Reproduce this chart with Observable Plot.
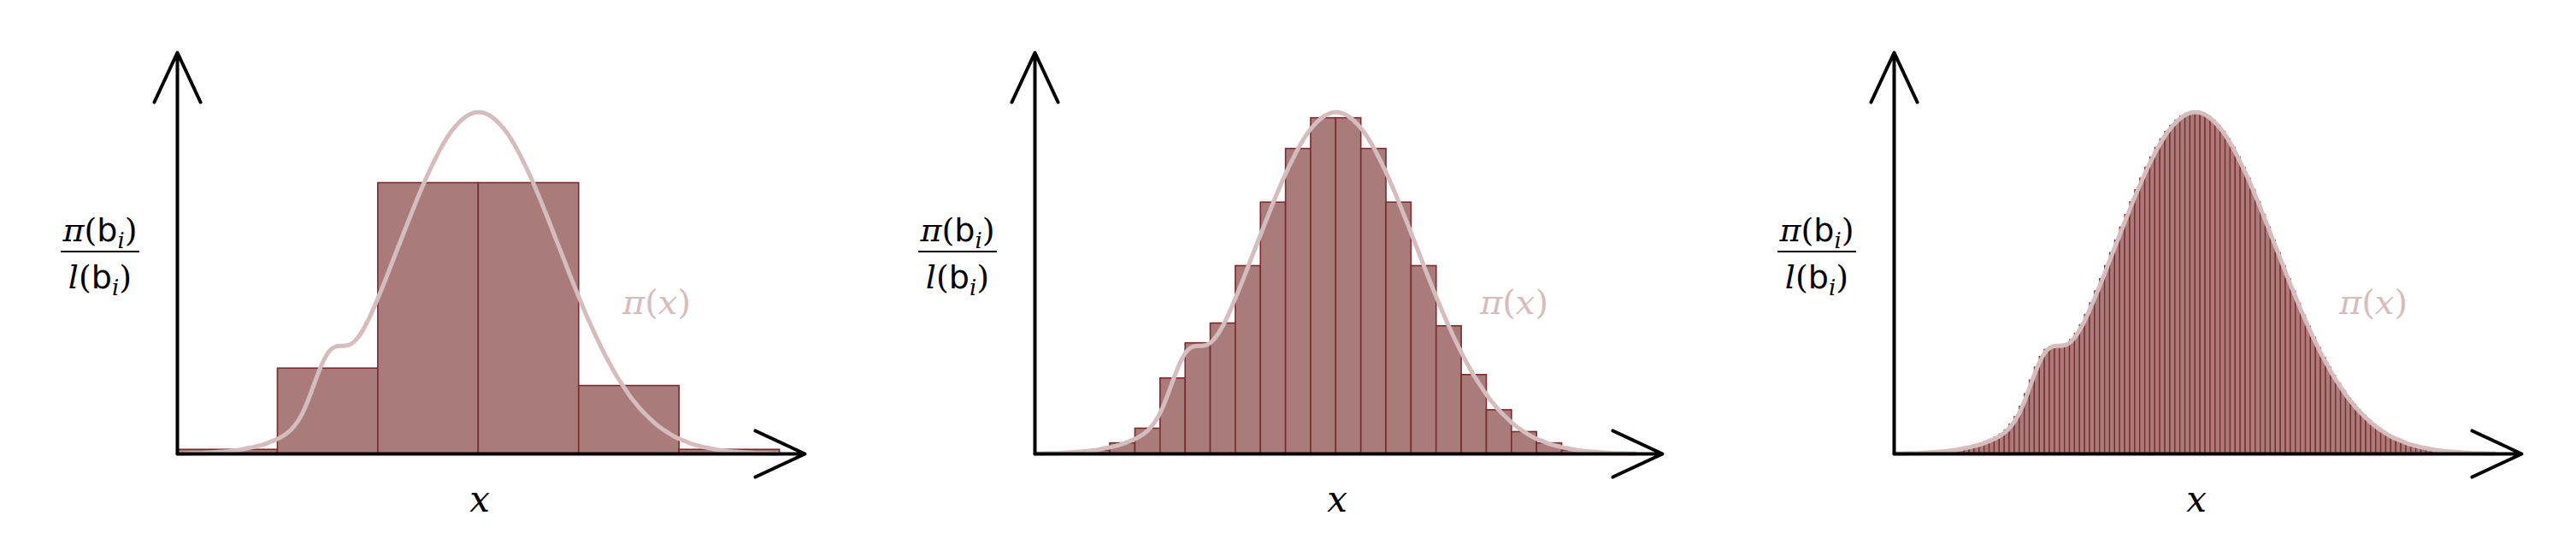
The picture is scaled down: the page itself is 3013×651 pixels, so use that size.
<!DOCTYPE html>
<html><head><meta charset="utf-8">
<script src="https://cdn.jsdelivr.net/npm/d3@7"></script>
<script src="https://cdn.jsdelivr.net/npm/@observablehq/plot@0.6"></script>
<style>body{margin:0;background:#fff}#wrap{position:relative;width:3013px;height:651px}.p{position:absolute;top:0}</style>
</head><body><div id="wrap"></div>
<script>
// Panel 1: bins of width 1 starting at 0
const start1 = 0, width1 = 1;
const heights1 = [1.2, 25.0, 79.3, 79.3, 19.9, 1.2];
// Panel 2: bins of width 0.25 starting at 0.5
const start2 = 0.5, width2 = 0.25;
const heights2 = [1.0,3.1,7.4,22.1,32.4,38.2,55.0,73.6,89.3,98.3,98.3,89.3,73.6,55.0,37.4,23.1,12.8,6.4,3.1,1.0];
// Panel 3: bins of width 0.05 starting at 0 (also density curve samples at bin centers)
const start3 = 0, width3 = 0.05;
const heights3 = [
0.1,0.1,0.2,0.2,0.2,0.3,0.4,0.5,0.6,0.7,
0.8,1.0,1.2,1.5,1.8,2.1,2.5,2.9,3.5,4.1,
4.8,5.7,6.9,8.6,10.8,13.8,17.5,21.5,25.3,28.4,
30.5,31.4,31.6,31.7,32.1,33.3,35.2,37.7,40.7,44.1,
47.6,51.2,55.0,58.8,62.5,66.3,70.0,73.7,77.2,80.6,
83.8,86.8,89.6,92.1,94.3,96.1,97.6,98.8,99.6,100.0,
100.0,99.6,98.8,97.6,96.1,94.3,92.1,89.6,86.8,83.8,
80.6,77.2,73.7,70.0,66.3,62.5,58.8,55.0,51.2,47.6,
44.0,40.5,37.2,34.0,31.0,28.1,25.4,22.8,20.5,18.3,
16.2,14.4,12.7,11.2,9.8,8.5,7.4,6.4,5.5,4.7,
4.1,3.5,2.9,2.5,2.1,1.8,1.5,1.2,1.0,0.8,
0.7,0.6,0.5,0.4,0.3,0.2,0.2,0.2,0.1,0.1];
const xMax = 6.25, yMax = 117.5;

const toBins = (s, w, h) => h.map((y, i) => ({x1: s + i*w, x2: s + (i+1)*w, y}));
const curve = heights3.map((y, i) => ({x: start3 + (i+0.5)*width3, y}));

const FILL = "#a97c7b", EDGE = "#7b2a2d", CURVE = "#d6bdbd";
const panels = [
  {bars: toBins(start1, width1, heights1), sw: 1.6, left: 0},
  {bars: toBins(start2, width2, heights2), sw: 1.6, left: 1003},
  {bars: toBins(start3, width3, heights3), sw: 1.3, left: 2008}
];
const wrap = document.getElementById("wrap");
for (const pn of panels) {
  const p = Plot.plot({
    width: 1004, height: 651, marginLeft: 207, marginRight: 63, marginTop: 61, marginBottom: 121,
    x: {domain: [0, xMax], axis: null}, y: {domain: [0, yMax], axis: null},
    marks: [
      Plot.rectY(pn.bars, {x1: "x1", x2: "x2", y: "y", fill: FILL, stroke: EDGE, strokeWidth: pn.sw}),
      Plot.line(curve, {x: "x", y: "y", curve: "natural", stroke: CURVE, strokeWidth: 5}),
      Plot.arrow([{a:0,b:0,c:xMax,d:0},{a:0,b:0,c:0,d:yMax}], {x1:"a", y1:"b", x2:"c", y2:"d", stroke:"black", strokeWidth:4, headLength:24, headAngle:50})
    ]
  });
  const div = document.createElement("div");
  div.className = "p"; div.style.left = pn.left + "px";
  div.appendChild(p); wrap.appendChild(div);
  const svg = d3.select(p);
  const serif = "'DejaVu Serif', serif", sans = "'DejaVu Sans', sans-serif";
  function frac(y, parts) {
    const t = svg.append("text").attr("x", 117).attr("y", y).attr("text-anchor", "middle").attr("font-size", 38).attr("fill", "black");
    for (const [s, f, it, sub] of parts) {
      const ts = t.append("tspan").text(s).attr("font-family", f).attr("font-style", it ? "italic" : "normal");
      if (sub) ts.attr("font-size", 26).attr("dy", 8);
      else if (sub === false) ts.attr("dy", -8);
    }
  }
  frac(282, [["π", serif, true], ["(", serif, false], ["b", sans, false], ["i", serif, true, true], [")", serif, false, false]]);
  frac(337, [["l", serif, true], ["(", serif, false], ["b", sans, false], ["i", serif, true, true], [")", serif, false, false]]);
  svg.append("line").attr("x1", 71).attr("x2", 163).attr("y1", 294).attr("y2", 294).attr("stroke", "black").attr("stroke-width", 2);
  const lab = svg.append("text").attr("x", 768).attr("y", 367).attr("text-anchor", "middle").attr("font-size", 40).attr("fill", CURVE).attr("font-family", serif);
  lab.append("tspan").text("π").attr("font-style", "italic");
  lab.append("tspan").text("(");
  lab.append("tspan").text("x").attr("font-style", "italic");
  lab.append("tspan").text(")");
  svg.append("text").attr("x", 561).attr("y", 598).attr("text-anchor", "middle").attr("font-size", 42).attr("font-family", serif).attr("font-style", "italic").text("x");
}
</script></body></html>
